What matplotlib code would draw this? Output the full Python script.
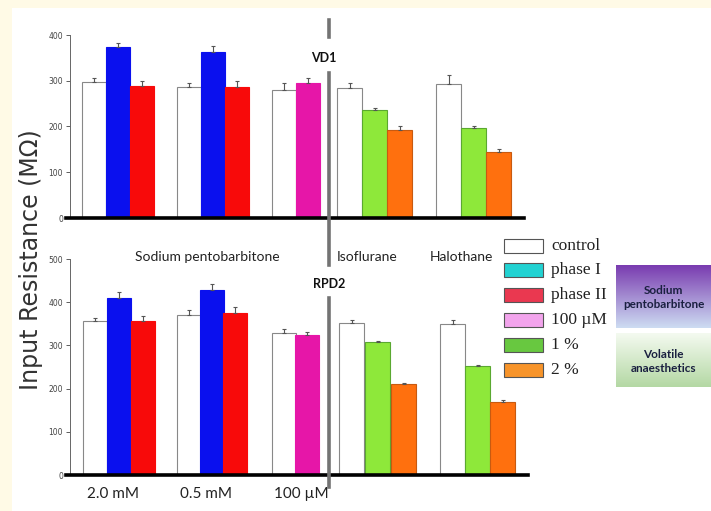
import matplotlib
matplotlib.use("Agg")
import matplotlib.pyplot as plt
import numpy as np
from matplotlib.patches import Rectangle
from matplotlib.lines import Line2D

# ---------------- data ----------------
groups = ["2.0 mM", "0.5 mM", "100 \u00b5M", "Isoflurane", "Halothane"]
legend_labels = ["control", "phase I", "phase II", "100 \u00b5M", "1 %", "2 %"]

# VD1 (top panel)
vd1_control = [297, 286, 280, 284, 293]
vd1_control_err = [8, 8, 15, 10, 20]
vd1_phase1 = [374, 363]
vd1_phase1_err = [8, 12]
vd1_phase2 = [288, 287]
vd1_phase2_err = [12, 12]
vd1_100uM = [295]
vd1_100uM_err = [12]
vd1_1pct = [236, 197]
vd1_1pct_err = [5, 5]
vd1_2pct = [192, 144]
vd1_2pct_err = [8, 6]

# RPD2 (bottom panel)
rpd2_control = [356, 370, 329, 352, 349]
rpd2_control_err = [8, 12, 10, 6, 10]
rpd2_phase1 = [410, 428]
rpd2_phase1_err = [14, 14]
rpd2_phase2 = [357, 376]
rpd2_phase2_err = [10, 12]
rpd2_100uM = [323]
rpd2_100uM_err = [8]
rpd2_1pct = [308, 252]
rpd2_1pct_err = [2, 3]
rpd2_2pct = [210, 169]
rpd2_2pct_err = [4, 4]

# ---------------- styling ----------------
C_WHITE = "#ffffff"
C_BLUE = "#0a10ee"
C_RED = "#f80a0a"
C_MAG = "#e616a8"
C_GREEN = "#8ee83a"
C_ORANGE = "#ff700e"
leg_colors = ["#ffffff", "#22d2d2", "#ea3850", "#f2a4ec", "#68c840", "#f7942a"]

W, H = 711, 511
fig = plt.figure(figsize=(W / 100, H / 100), dpi=100)
fig.patch.set_facecolor("white")

def fx(x):
    return x / W

def fy(y):
    return 1 - y / H

# cream frame strips
fig.add_artist(Rectangle((0, fy(8)), 1, 8 / H, transform=fig.transFigure,
                         facecolor="#fffae6", edgecolor="none", zorder=0))
fig.add_artist(Rectangle((0, 0), 12 / W, 1, transform=fig.transFigure,
                         facecolor="#fffae6", edgecolor="none", zorder=0))

narrow = ["Lato", "DejaVu Sans"]


def make_panel(rect_px, ymax, yticks, bars, width_sets):
    left, right, top, bottom = rect_px
    ax = fig.add_axes([fx(left), fy(bottom), fx(right - left), (bottom - top) / H])
    ax.set_facecolor("none")
    ax.set_xlim(left, right)
    ax.set_ylim(0, ymax)
    for s in ["top", "right"]:
        ax.spines[s].set_visible(False)
    ax.spines["bottom"].set_linewidth(2.6)
    ax.spines["bottom"].set_color("black")
    ax.spines["left"].set_position(("data", 70))
    ax.spines["left"].set_color("#666666")
    ax.spines["left"].set_linewidth(0.7)
    ax.set_xticks([])
    ax.set_yticks(yticks)
    ax.tick_params(axis="y", labelsize=5.5, colors="#444444", length=3, width=0.6, pad=2)
    for (vals, errs, color, edge, idx), (gstarts, w) in zip(bars, width_sets):
        xs = [gstarts[i] for i in idx]
        ax.bar(xs, vals, width=w, align="edge", color=color, edgecolor=edge,
               linewidth=0.8, zorder=2)
        centers = np.array(xs) + w / 2
        ax.errorbar(centers, vals, yerr=[np.zeros(len(vals)), errs], fmt="none",
                    ecolor="#555555", elinewidth=0.8, capsize=1.5, capthick=0.8, zorder=3)
    return ax

# bar slot layouts (left edges, px-like units)
top_slots = {
    "c": [82, 177, 272, 337, 436],
    "p1": [106, 201],
    "p2": [130, 225],
    "m": [296],
    "g": [362, 461],
    "o": [387, 486],
}
bot_slots = {
    "c": [83, 177, 272, 339, 440],
    "p1": [107, 200],
    "p2": [131, 223],
    "m": [295],
    "g": [365, 465],
    "o": [391, 490],
}

def panel_bars(slots, control, ce, p1, p1e, p2, p2e, m, me, g, ge, o, oe):
    bars = [
        (control[:3], ce[:3], C_WHITE, "#888888", [0, 1, 2]),
        (control[3:], ce[3:], C_WHITE, "#888888", [3, 4]),
        (p1, p1e, C_BLUE, C_BLUE, [0, 1]),
        (p2, p2e, C_RED, C_RED, [0, 1]),
        (m, me, C_MAG, C_MAG, [0]),
        (g, ge, C_GREEN, "#5aa830", [0, 1]),
        (o, oe, C_ORANGE, "#c85a10", [0, 1]),
    ]
    widths = [
        (slots["c"], 24), (slots["c"], 25), (slots["p1"], 24), (slots["p2"], 24),
        (slots["m"], 24), (slots["g"], 25), (slots["o"], 25),
    ]
    return bars, widths

b, w = panel_bars(top_slots, vd1_control, vd1_control_err, vd1_phase1, vd1_phase1_err,
                  vd1_phase2, vd1_phase2_err, vd1_100uM, vd1_100uM_err,
                  vd1_1pct, vd1_1pct_err, vd1_2pct, vd1_2pct_err)
ax1 = make_panel((66, 524, 35, 218), 400, [0, 100, 200, 300, 400], b, w)

b, w = panel_bars(bot_slots, rpd2_control, rpd2_control_err, rpd2_phase1, rpd2_phase1_err,
                  rpd2_phase2, rpd2_phase2_err, rpd2_100uM, rpd2_100uM_err,
                  rpd2_1pct, rpd2_1pct_err, rpd2_2pct, rpd2_2pct_err)
ax2 = make_panel((66, 528, 259, 475), 500, [0, 100, 200, 300, 400, 500], b, w)

# divider line
for y0, y1 in [(20, 37), (73, 265), (298, 487)]:
    fig.add_artist(Line2D([fx(329), fx(329)], [fy(y0), fy(y1)], transform=fig.transFigure,
                          color="#737373", linewidth=2.6, zorder=5))

# panel labels
fig.text(fx(324), fy(58), "VD1", ha="center", va="center", fontsize=9,
         fontweight="bold", family=narrow, color="#111111")
fig.text(fx(329), fy(284), "RPD2", ha="center", va="center", fontsize=9,
         fontweight="bold", family=narrow, color="#111111")

fig.text(fx(207), fy(257), "Sodium pentobarbitone", ha="center", va="center",
         fontsize=10, family=narrow, color="#222222")
fig.text(fx(367), fy(257), "Isoflurane", ha="center", va="center",
         fontsize=10, family=narrow, color="#222222")
fig.text(fx(461), fy(257), "Halothane", ha="center", va="center",
         fontsize=10, family=narrow, color="#222222")

for xc, lab in zip([113, 206, 301], groups[:3]):
    fig.text(fx(xc), fy(494), lab, ha="center", va="center", fontsize=11,
             family=narrow, color="#222222")

fig.text(fx(31), fy(260), "Input Resistance (M\u03a9)", rotation=90, ha="center",
         va="center", fontsize=17, color="#333333")

# legend
leg_y = [246, 270, 295, 320, 345, 370]
for yc, col, lab in zip(leg_y, leg_colors, legend_labels):
    fig.add_artist(Rectangle((fx(504), fy(yc + 7)), 39 / W, 14 / H, transform=fig.transFigure,
                             facecolor=col, edgecolor="#555555", linewidth=0.8))
    fig.text(fx(551), fy(yc), lab, ha="left", va="center", fontsize=12.5,
             family=["Liberation Serif", "DejaVu Serif"], color="#222222")

# gradient boxes
def grad_box(x0, y0, x1, y1, c_top, c_bot, text):
    axg = fig.add_axes([fx(x0), fy(y1), fx(x1 - x0), (y1 - y0) / H])
    t = np.linspace(0, 1, 64)[:, None]
    ct = np.array(matplotlib.colors.to_rgb(c_top))
    cb = np.array(matplotlib.colors.to_rgb(c_bot))
    img = ct[None, None, :] * (1 - t[..., None]) + cb[None, None, :] * t[..., None]
    img = np.repeat(img, 2, axis=1)
    axg.imshow(img, aspect="auto", extent=[0, 1, 0, 1])
    axg.set_axis_off()
    axg.text(0.5, 0.48, text, ha="center", va="center", fontsize=8.5, family=narrow,
             fontweight="bold", color="#1a2040", linespacing=1.35, transform=axg.transAxes)

grad_box(616, 265, 711, 328, "#7a3cb0", "#cddcf2", "Sodium\npentobarbitone")
grad_box(616, 333, 711, 387, "#f4faf0", "#b4d8a4", "Volatile\nanaesthetics")

fig.savefig("out.png", dpi=100)
